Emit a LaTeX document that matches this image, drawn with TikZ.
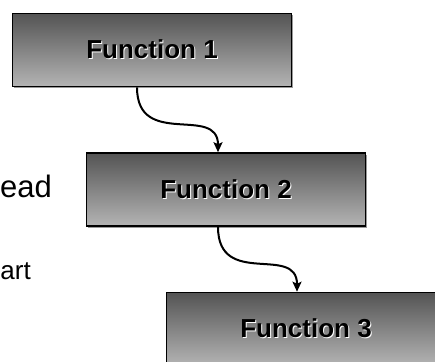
\documentclass[tikz,border=0pt]{standalone}
\usepackage{fontspec}
\setmainfont{Liberation Sans}
\usepackage{tikz}
\usetikzlibrary{arrows.meta,shadows,calc}
\definecolor{functop}{RGB}{84,84,84}
\definecolor{funcbot}{RGB}{180,180,180}
\newcommand{\embossed}[1]{\makebox[0pt][l]{\hspace{1bp}\raisebox{-1.1bp}{\color{white}#1}}#1}
\tikzset{
  funcbox/.style={draw=black, line width=1.6bp, rectangle, minimum width=279bp, minimum height=73bp,
    inner sep=0pt, top color=functop, bottom color=funcbot,
    drop shadow={shadow xshift=1.5bp, shadow yshift=-1.5bp, fill=black!40, opacity=1},
    font=\fontsize{26bp}{30bp}\selectfont\bfseries},
  bullettext/.style={anchor=base east, inner sep=0pt},
  flowarrow/.style={line width=2bp, -{Stealth[length=10bp,width=9bp,inset=2bp]}}
}

\begin{document}
\begin{tikzpicture}[x=1bp, y=-1bp]
  \useasboundingbox (0,0) rectangle (435,361);
  \clip (0,0) rectangle (435,361);
  \fill[white] (0,0) rectangle (435,361);
  % side text, cut off by the slide edge
  \node[bullettext, font=\fontsize{31bp}{36bp}\selectfont] (read) at (52,197) {ead};
  \node[bullettext, font=\fontsize{26bp}{32bp}\selectfont] (start) at (31,279) {art};
  % the three functions
  \node[funcbox] (f1) at (152,50) {\embossed{Function 1}};
  \node[funcbox] (f2) at (226,189.5) {\embossed{Function 2}};
  \node[funcbox] (f3) at (306,329) {\embossed{Function 3}};
  % calls
  \draw[flowarrow] ([xshift=-15bp]f1.south) .. controls ($([xshift=-15bp]f1.south)+(0,62)$)
    and ($([xshift=-8bp]f2.north)+(0,-48)$) .. ([xshift=-8bp]f2.north);
  \draw[flowarrow] ([xshift=-8bp]f2.south) .. controls ($([xshift=-8bp]f2.south)+(0,62)$)
    and ($([xshift=-9bp]f3.north)+(0,-48)$) .. ([xshift=-9bp]f3.north);
\end{tikzpicture}
\end{document}
